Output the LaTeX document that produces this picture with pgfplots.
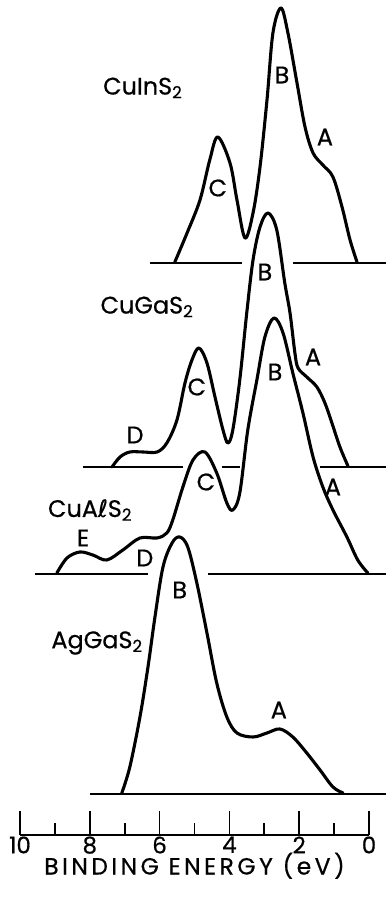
\documentclass[border=0pt]{standalone}
\usepackage{fontspec}
\setmainfont{Poppins}[FakeBold=0.6]
\newfontfamily\spaced{Poppins}[FakeBold=0.6, LetterSpace=15]
\newfontfamily\symfont{DejaVu Sans}[FakeBold=0.6]
\usepackage{pgfplots}
\pgfplotsset{compat=1.18}

\tikzset{
  curve/.style={black, line width=3.1bp, line join=round, line cap=round, smooth, tension=0.55},
  base/.style={black, line width=1.6bp},
  lab/.style={font=\fontsize{24}{24}\selectfont},
}

% Valence-band spectra, stacked; x = binding energy (eV), y = offset intensity
\begin{document}
\begin{tikzpicture}
\path[use as bounding box] (0,0) rectangle (386bp,903bp);
\begin{axis}[
  at={(0,0)}, anchor=south west,
  scale only axis, width=386bp, height=903bp,
  xmin=-0.49, xmax=10.57, x dir=reverse,
  ymin=0, ymax=903,
  hide axis, clip=false,
]
% CuInS2
\addplot[base] coordinates {(6.28,640) (3.64,640)};
\addplot[base] coordinates {(2.18,640) (-0.49,640)};
\addplot[curve] coordinates {
(5.56,641) (5.21,670) (4.84,703) (4.56,743) (4.33,766) (3.98,740) (3.78,703)
(3.55,665) (3.32,690) (3.12,736) (2.92,803) (2.75,870) (2.52,895) (2.32,870)
(2.06,820) (1.83,776) (1.60,750) (1.32,738) (1.03,726) (0.77,696) (0.54,663) (0.34,641)};
% CuGaS2
\addplot[base] coordinates {(8.19,436) (5.33,436)};
\addplot[base] coordinates {(4.21,436) (3.70,436)};
\addplot[base] coordinates {(1.40,436) (-0.49,436)};
\addplot[curve] coordinates {
(7.36,436) (7.13,446) (6.85,451) (6.47,451) (6.07,451) (5.79,460) (5.50,483)
(5.27,520) (5.07,543) (4.87,555) (4.64,540) (4.41,506) (4.18,473) (4.04,460)
(3.90,473) (3.70,523) (3.50,590) (3.32,643) (3.12,676) (2.89,690) (2.64,673)
(2.41,620) (2.26,590) (2.12,550) (2.03,535) (1.78,526) (1.49,516) (1.26,500)
(1.06,480) (0.83,456) (0.60,437)};
% CuAlS2
\addplot[base] coordinates {(9.57,329) (6.33,329)};
\addplot[base] coordinates {(4.61,329) (-0.49,329)};
\addplot[curve] coordinates {
(8.94,330) (8.65,345) (8.28,351) (7.91,348) (7.51,343) (7.05,353) (6.56,365)
(6.07,365) (5.79,370) (5.62,383) (5.33,416) (5.04,443) (4.70,451) (4.36,430)
(4.07,400) (3.90,393) (3.70,410) (3.47,473) (3.21,523) (2.98,566) (2.72,585)
(2.46,570) (2.18,530) (1.89,490) (1.60,446) (1.32,416) (1.03,393) (0.63,366)
(0.32,343) (0.03,330)};
% AgGaS2
\addplot[base] coordinates {(8.00,109) (-0.49,109)};
\addplot[curve] coordinates {
(7.08,110) (6.85,136) (6.56,186) (6.33,236) (6.13,286) (5.90,336) (5.64,360)
(5.42,366) (5.19,356) (4.93,320) (4.64,270) (4.36,220) (4.07,186) (3.78,170)
(3.32,166) (2.92,170) (2.55,174) (2.18,166) (1.78,150) (1.40,133) (1.03,116) (0.74,110)};

% compound names
\node[lab] at (axis cs:6.48,815) {CuInS\textsubscript{2}};
\node[lab] at (axis cs:6.36,596) {CuGaS\textsubscript{2}};
\node[lab] at (axis cs:7.99,393) {CuA{\symfont ℓ}S\textsubscript{2}};
\node[lab] at (axis cs:7.79,260) {AgGaS\textsubscript{2}};
% peak letters
\node[lab] at (axis cs:2.49,828) {B};
\node[lab] at (axis cs:1.26,766) {A};
\node[lab] at (axis cs:4.33,715) {C};
\node[lab] at (axis cs:2.98,631) {B};
\node[lab] at (axis cs:1.60,546) {A};
\node[lab] at (axis cs:4.93,516) {C};
\node[lab] at (axis cs:6.70,468) {D};
\node[lab] at (axis cs:8.19,365) {E};
\node[lab] at (axis cs:6.42,345) {D};
\node[lab] at (axis cs:4.67,421) {C};
\node[lab] at (axis cs:2.69,531) {B};
\node[lab] at (axis cs:1.03,416) {A};
\node[lab] at (axis cs:5.42,313) {B};
\node[lab] at (axis cs:2.58,193) {A};
\end{axis}

% energy scale
\begin{axis}[
  at={(20bp,68bp)}, anchor=south west,
  scale only axis, width=349bp, height=30bp,
  xmin=0, xmax=10, x dir=reverse, ymin=0, ymax=1,
  axis x line*=bottom, axis y line=none,
  axis line style={line width=1.7bp},
  xtick={0,2,...,10}, minor xtick={1,3,...,9},
  tick align=inside, major tick length=24bp, minor tick length=12bp,
  every tick/.style={black, line width=1.7bp},
  /pgf/number format/assume math mode=true,
  ticklabel style={font=\fontsize{23}{23}\selectfont, yshift=2bp},
  xlabel={BINDING ENERGY (eV)},
  xlabel style={font=\spaced\fontsize{23.5}{23.5}\selectfont, yshift=8bp},
]
\addplot[draw=none] coordinates {(0,0) (10,0)};
\end{axis}
\end{tikzpicture}
\end{document}
